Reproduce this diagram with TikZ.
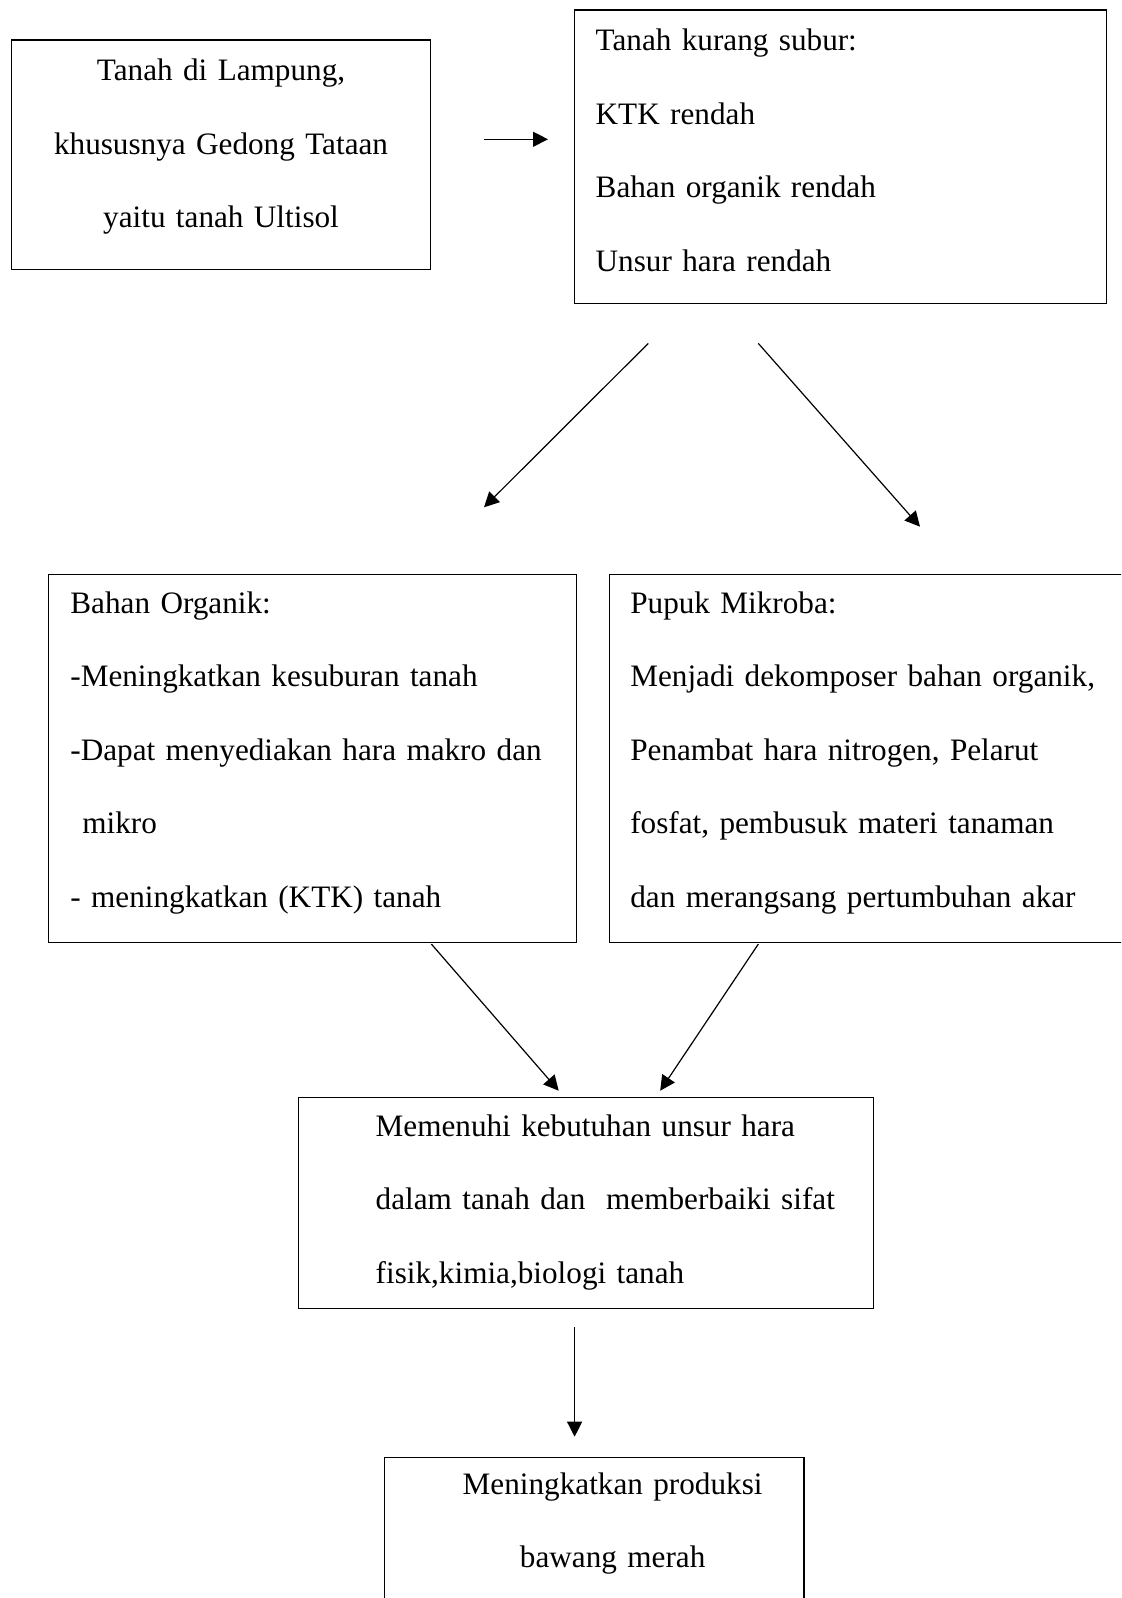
\documentclass[tikz,border=0pt]{standalone}
\usepackage{fontspec}
\setmainfont{Liberation Serif}
\usetikzlibrary{calc}
\usetikzlibrary{arrows.meta}

\begin{document}
\begin{tikzpicture}[x=0.5pt,y=-0.5pt,
  flowbox/.style={draw=black,line width=0.7pt,inner xsep=0pt,inner ysep=0pt,anchor=north west,align=left,font=\fontsize{15.6pt}{36.7pt}\selectfont},
  flowarr/.style={draw=black,line width=0.6pt,-{Triangle[length=7.5pt,width=7.5pt]}}]
\useasboundingbox (0,0) rectangle (1121,1598);
\clip (0,0) rectangle (1121,1598);

\node[flowbox,align=center,text width=209.65pt,text height=20.5pt,text depth=94.2pt] (A) at (10.7,39.3) {Tanah di Lampung,\\khususnya Gedong Tataan\\yaitu tanah Ultisol};
\node[flowbox,text width=266pt,text height=20.5pt,text depth=126.2pt] (B) at (574,9.3) {\leftskip=10.5pt\relax Tanah kurang subur:\\KTK rendah\\Bahan organik rendah\\Unsur hara rendah\par};

\node[flowbox,text width=263.75pt,text height=19.6pt,text depth=164.5pt] (C) at (48,573.5) {\leftskip=10.85pt\relax Bahan Organik:\\-Meningkatkan kesuburan tanah\\-Dapat menyediakan hara makro dan\\\hspace*{6pt}mikro\\- meningkatkan (KTK) tanah\par};
\node[flowbox,text width=270.5pt,text height=19.6pt,text depth=164.5pt] (D) at (609,573.5) {\leftskip=10.3pt\relax Pupuk Mikroba:\\Menjadi dekomposer bahan organik,\\Penambat hara nitrogen, Pelarut\\fosfat, pembusuk materi tanaman\\dan merangsang pertumbuhan akar\par};

\node[flowbox,text width=287.5pt,text height=19.35pt,text depth=86.15pt] (E) at (298,1097) {\leftskip=38.5pt\relax Memenuhi kebutuhan unsur hara\\dalam tanah dan\ \ memberbaiki sifat\\fisik,kimia,biologi tanah\par};
\node[flowbox,align=center,text width=209.65pt,text height=18.3pt,text depth=78.35pt] (F) at (384,1456.7) {\hspace*{18.3pt}Meningkatkan produksi\\\hspace*{18.3pt}bawang merah};

% connectors
\draw[flowarr] ($(A.north east)+(53,100)$) -- ($(B.north west)+(-26,130)$);
\draw[flowarr] ($(B.south west)+(74.3,39.3)$) -- ($(C.north west)+(436,-66.2)$);
\draw[flowarr] ($(B.south west)+(184.3,39.3)$) -- ($(D.north west)+(311,-46.8)$);
\draw[flowarr] ($(C.south west)+(383.4,1)$) -- ($(E.north west)+(260.7,-6.3)$);
\draw[flowarr] ($(D.south west)+(149.3,1)$) -- ($(E.north west)+(362.2,-6.3)$);
\draw[flowarr] ($(E.south west)+(276.6,18)$) -- ($(F.north west)+(190.6,-20)$);
\end{tikzpicture}
\end{document}
